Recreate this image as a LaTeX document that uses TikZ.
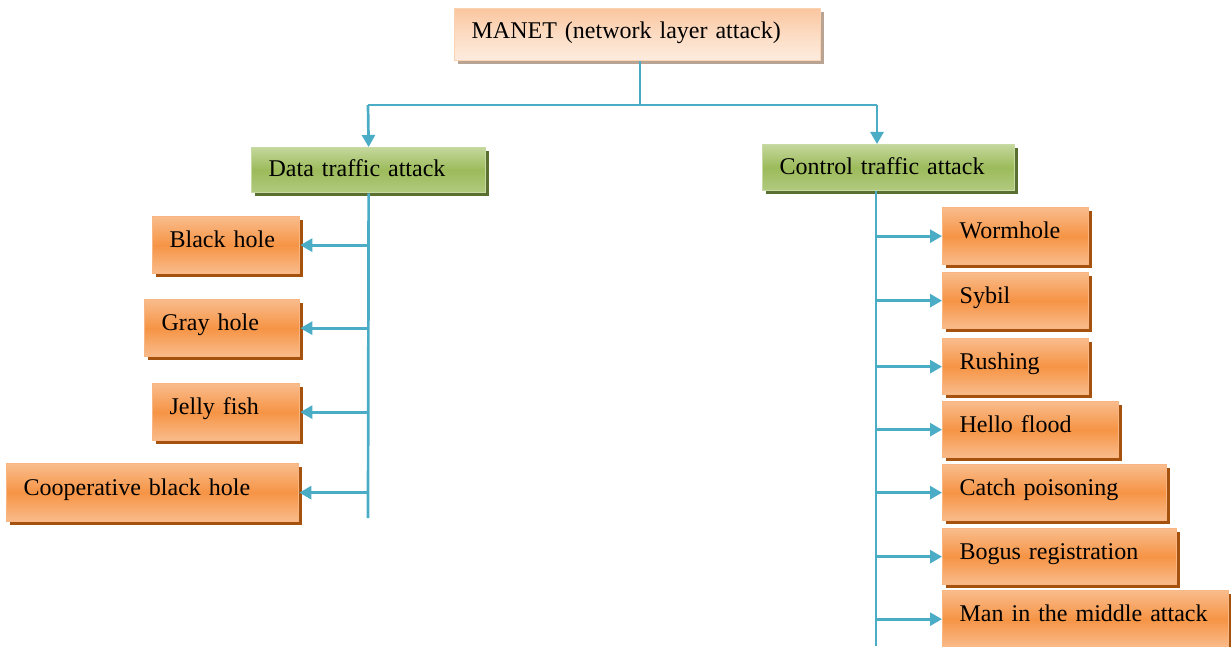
\documentclass[tikz,border=0pt]{standalone}
\usepackage{fontspec}
\setmainfont{Liberation Serif}
\usetikzlibrary{arrows.meta,shadows}

\definecolor{olight}{HTML}{F9BC8C}
\definecolor{omid}{HTML}{F69445}
\definecolor{oborder}{HTML}{F9B683}
\definecolor{oshadow}{HTML}{A4520E}
\definecolor{glight}{HTML}{C4D79C}
\definecolor{gmid}{HTML}{9CBB5A}
\definecolor{gbottom}{HTML}{B1CA80}
\definecolor{gborder}{HTML}{C8DAA3}
\definecolor{gshadow}{HTML}{5A7030}
\definecolor{ptop}{HTML}{FAC6A0}
\definecolor{pmid}{HTML}{FCDCC3}
\definecolor{pbottom}{HTML}{FDECDF}
\definecolor{pborder}{HTML}{FBD3B3}
\definecolor{pshadow}{HTML}{B9A493}
\definecolor{link}{HTML}{4BACC6}

\begin{document}
\begin{tikzpicture}[x=1pt,y=-1pt,
  font=\fontsize{24}{28}\selectfont,
  box/.style={rectangle, anchor=north west, inner xsep=17pt, inner ysep=0pt,
    align=left, line width=1.3pt, text height=16pt},
  obox/.style={box, draw=oborder, top color=olight, bottom color=olight,
    middle color=omid, minimum height=57pt, text depth=11pt,
    drop shadow={shadow xshift=3pt, shadow yshift=-3pt, fill=oshadow, opacity=1}},
  gbox/.style={box, draw=gborder, top color=glight, bottom color=gbottom,
    middle color=gmid, minimum height=45pt, text depth=3pt,
    drop shadow={shadow xshift=3pt, shadow yshift=-3pt, fill=gshadow, opacity=1}},
  pbox/.style={box, draw=pborder, top color=ptop, bottom color=pbottom,
    middle color=pmid, minimum height=52pt, text depth=8pt,
    drop shadow={shadow xshift=3pt, shadow yshift=-3pt, fill=pshadow, opacity=1}},
  wire/.style={draw=link, line width=2.7pt},
  feed/.style={wire, -{Triangle[length=12pt,width=13pt]}}
]
\useasboundingbox (0,0) rectangle (1231,647);

% root
\node[pbox, text width=332pt] (manet) at (454,8) {MANET (network layer attack)};

% the two attack classes
\node[gbox, text width=200pt] (data) at (251,147) {Data traffic attack};
\node[gbox, text width=218pt, minimum height=46pt] (ctrl) at (762,144) {Control traffic attack};

% data traffic attacks
\node[obox, text width=113pt] (bh) at (152,216) {Black hole};
\node[obox, text width=121pt] (gh) at (144,299) {Gray hole};
\node[obox, text width=113pt] (jf) at (152,383) {Jelly fish};
\node[obox, text width=258pt, minimum height=58pt] (cbh) at (6,463) {Cooperative black hole};

% control traffic attacks
\node[obox, text width=112pt] (wh) at (942,207) {Wormhole};
\node[obox, text width=112pt, minimum height=56pt] (sy) at (942,272) {Sybil};
\node[obox, text width=112pt, minimum height=56pt] (ru) at (942,338) {Rushing};
\node[obox, text width=142pt, minimum height=56pt] (hf) at (942,401) {Hello flood};
\node[obox, text width=190pt, minimum height=56pt] (cp) at (942,464) {Catch poisoning};
\node[obox, text width=200pt, minimum height=56pt] (br) at (942,528) {Bogus registration};
\node[obox, text width=252pt] (mm) at (942,590) {Man in the middle attack};

% splitter below the root
\coordinate (barM) at (640,105);
\coordinate (barL) at (368,105);
\coordinate (barR) at (877,105);
\draw[wire] (barM |- manet.south) -- (barM);
\draw[wire] (barL) -- (barR);
\draw[feed] (barL) -- (data.north);
\draw[feed] (barR) -- (barR |- ctrl.north);

% left trunk
\coordinate (endL) at (368,518);
\draw[wire] (data.south) -- (endL);
\foreach \n in {bh,gh,jf,cbh}
  \draw[feed] (endL |- \n.east) -- (\n.east);

% right trunk
\coordinate (endR) at (876,646);
\draw[wire] (endR |- ctrl.south) -- (endR);
\foreach \n in {wh,sy,ru,hf,cp,br,mm}
  \draw[feed] (endR |- \n.west) -- (\n.west);
\end{tikzpicture}
\end{document}
